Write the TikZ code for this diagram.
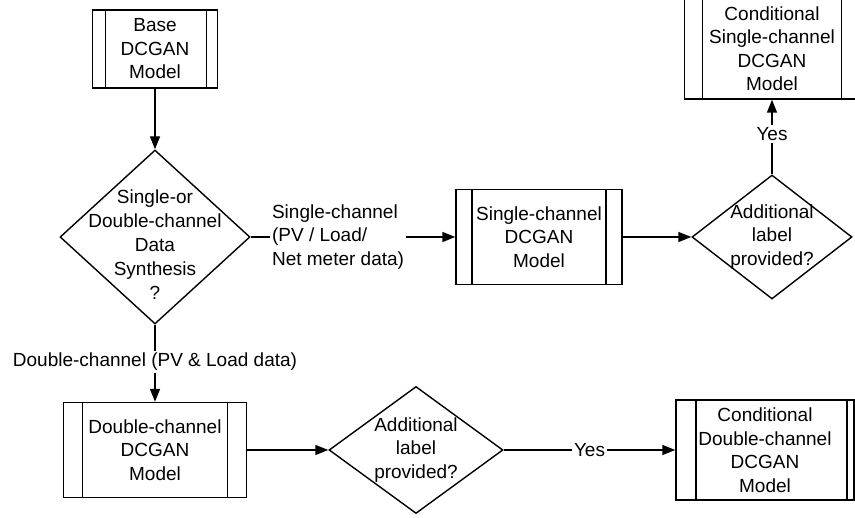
\documentclass[tikz,border=0pt]{standalone}
\usepackage{fontspec}
\setmainfont{Liberation Sans}
\usetikzlibrary{shapes.geometric,arrows.meta}

\tikzset{
  process/.style 2 args={draw, rectangle, inner sep=0pt, align=center,
    path picture={
      \draw ([xshift=#1]path picture bounding box.north west) -- ([xshift=#1]path picture bounding box.south west);
      \draw ([xshift=-#2]path picture bounding box.north east) -- ([xshift=-#2]path picture bounding box.south east);
    }},
  decision/.style={draw, diamond, inner sep=0pt},
  flow/.style={-{Triangle[length=13pt,width=10pt]}},
  tag/.style={fill=white, inner sep=2pt}
}

\begin{document}
\begin{tikzpicture}[x=1pt, y=-1pt, line width=1.4pt,
    every node/.style={font=\fontsize{19}{23.5}\selectfont}]
        \useasboundingbox (0,0) rectangle (855,518);

        % Define the model boxes
        \node[process={13pt}{11pt}, minimum width=125pt, minimum height=78pt] (base) at (155,49) {Base\\DCGAN\\Model};
        \node[process={16pt}{16pt}, minimum width=166pt, minimum height=95pt] (single) at (539,237) {Single-channel\\DCGAN\\Model};
        \node[process={18pt}{18pt}, minimum width=175pt, minimum height=101pt] (condsingle) at (772,48.5) {Conditional\\Single-channel\\DCGAN\\Model};
        \node[process={19pt}{19pt}, minimum width=183pt, minimum height=95pt] (double) at (155,450) {Double-channel\\DCGAN\\Model};
        \node[process={20pt}{7pt}, minimum width=178pt, minimum height=100pt] (conddouble) at (765,450) {Conditional\\Double-channel\\DCGAN\\Model};

        % Define the decisions
        \node[decision, minimum width=190pt, minimum height=174pt] (choice) at (155,237) {};
        \node[align=center, font=\fontsize{19}{24}\selectfont] (choicetxt) at (155,244.5) {Single-or\\Double-channel\\Data\\Synthesis\\?};
        \node[decision, minimum width=160pt, minimum height=124pt] (labelsingle) at (772,237) {};
        \node[align=center] (labelsingletxt) at (772,237) {Additional\\label\\provided?};
        \node[decision, minimum width=174pt, minimum height=127pt] (labeldouble) at (416,450) {};
        \node[align=center] (labeldoubletxt) at (416,450) {Additional\\label\\provided?};

        % Draw the flow
        \draw[flow] (base) -- (choice);
        \draw[flow] (choice) -- node[tag, pos=0.427, align=left] {Single-channel\\(PV / Load/\\Net meter data)} (single);
        \draw[flow] (choice) -- node[tag, pos=0.48] {Double-channel (PV \& Load data)} (double);
        \draw[flow] (single) -- (labelsingle);
        \draw[flow] (labelsingle) -- node[tag, pos=0.54] {Yes} (condsingle);
        \draw[flow] (double) -- (labeldouble);
        \draw[flow] (labeldouble) -- node[tag] {Yes} (conddouble);
    \end{tikzpicture}
\end{document}
